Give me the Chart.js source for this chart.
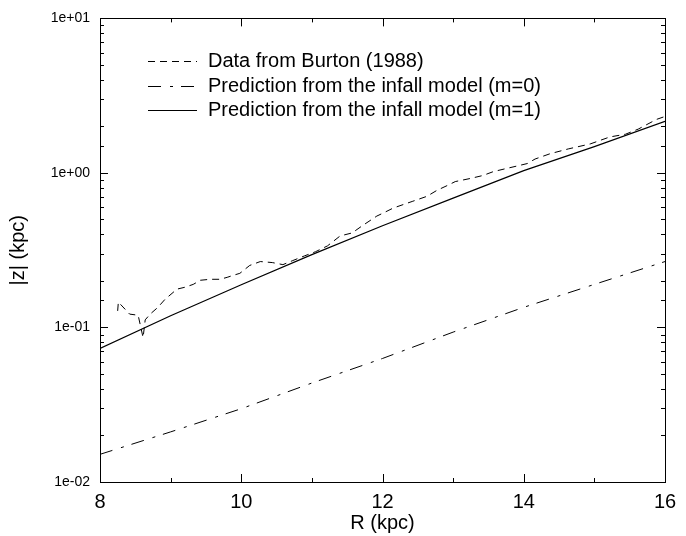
<!DOCTYPE html>
<html>
<head>
<meta charset="utf-8">
<script src="https://cdn.jsdelivr.net/npm/chart.js@4/dist/chart.umd.min.js"></script>
<style>
  html, body { margin: 0; padding: 0; background: #fff; }
  #chart { display: block; }
</style>
</head>
<body>
<canvas id="chart" width="686" height="536"></canvas>
<script>
// Data from Burton (1988)
const dataR = [8.25, 8.26, 8.42, 8.54, 8.61, 8.64, 8.71, 8.82, 8.92, 9.09, 9.20, 9.32, 9.42, 9.56, 9.70, 9.80,
    9.88, 9.98, 10.12, 10.27, 10.44, 10.59, 10.73, 10.90, 11.05, 11.22, 11.40, 11.57, 11.71, 11.92, 12.01,
    12.15, 12.31, 12.43, 12.63, 12.77, 12.92, 13.03, 13.24, 13.42, 13.57, 13.76, 13.91, 14.05, 14.16,
    14.37, 14.63, 14.94, 15.22, 15.44, 15.62, 15.88, 16.0];
const dataZ = [0.128, 0.146, 0.122, 0.120, 0.086, 0.112, 0.122, 0.135, 0.152, 0.177, 0.182, 0.190, 0.202, 0.205, 0.205, 0.211,
    0.217, 0.224, 0.252, 0.267, 0.263, 0.255, 0.271, 0.291, 0.309, 0.337, 0.391, 0.409, 0.454, 0.526, 0.550,
    0.592, 0.628, 0.656, 0.706, 0.771, 0.830, 0.879, 0.920, 0.962, 1.02, 1.07, 1.11, 1.15, 1.23,
    1.33, 1.43, 1.54, 1.71, 1.78, 1.92, 2.22, 2.32];

// Infall model predictions
const modelR = [8, 9, 10, 11, 12, 13, 14, 15, 16];
const modelM0 = [0.0151, 0.0211, 0.0298, 0.0437, 0.063, 0.0933, 0.135, 0.19, 0.267];
const modelM1 = [0.0731, 0.119, 0.189, 0.296, 0.455, 0.687, 1.035, 1.48, 2.16];

const seriesLabels = [
    'Data from Burton (1988)',
    'Prediction from the infall model (m=0)',
    'Prediction from the infall model (m=1)',
];
const seriesDash = [[7, 5], [13, 9, 3, 8], []];

const xTicks = [8, 10, 12, 14, 16];
const yTickValues = [0.01, 0.1, 1, 10];
const yTickLabels = ['1e-02', '1e-01', '1e+00', '1e+01'];

const FONT = "'Liberation Sans', Arial, Helvetica, sans-serif";

const toPoints = (xs, ys) => xs.map((x, i) => ({ x, y: ys[i] }));

// frame, inward ticks (gnuplot style) and the legend inside the plot
const framePlugin = {
    id: 'frame',
    afterDatasetsDraw(chart) {
        const { ctx, chartArea: a, scales: { x, y } } = chart;
        ctx.save();
        ctx.strokeStyle = '#000';
        ctx.lineWidth = 1;
        ctx.setLineDash([]);
        ctx.strokeRect(Math.round(a.left) + 0.5, Math.round(a.top) + 0.5,
            Math.round(a.right - a.left), Math.round(a.bottom - a.top));

        ctx.beginPath();
        for (let v = x.min; v <= x.max; v += 1) {
            const px = Math.round(x.getPixelForValue(v)) + 0.5;
            const len = xTicks.includes(v) ? 8 : 4;
            ctx.moveTo(px, a.bottom); ctx.lineTo(px, a.bottom - len);
            ctx.moveTo(px, a.top); ctx.lineTo(px, a.top + len);
        }
        y.ticks.forEach(t => {
            const py = Math.round(y.getPixelForValue(t.value)) + 0.5;
            const len = yTickValues.some(d => Math.abs(d - t.value) < d * 1e-6) ? 8 : 4;
            ctx.moveTo(a.left, py); ctx.lineTo(a.left + len, py);
            ctx.moveTo(a.right, py); ctx.lineTo(a.right - len, py);
        });
        ctx.stroke();

        // legend
        ctx.font = '20px ' + FONT;
        ctx.fillStyle = '#000';
        ctx.textBaseline = 'middle';
        const rows = [61, 86, 110];
        seriesLabels.forEach((label, i) => {
            ctx.beginPath();
            ctx.setLineDash(seriesDash[i]);
            ctx.moveTo(148, rows[i] + 0.5);
            ctx.lineTo(197, rows[i] + 0.5);
            ctx.stroke();
            ctx.setLineDash([]);
            ctx.fillText(label, 208, rows[i]);
        });
        ctx.restore();
    },
};

new Chart(document.getElementById('chart'), {
    type: 'scatter',
    data: {
        datasets: [
            {
                label: seriesLabels[0],
                data: toPoints(dataR, dataZ),
                borderColor: '#000',
                borderWidth: 1,
                borderDash: seriesDash[0],
                showLine: true,
                pointRadius: 0,
                tension: 0,
            },
            {
                label: seriesLabels[1],
                data: toPoints(modelR, modelM0),
                borderColor: '#000',
                borderWidth: 1,
                borderDash: seriesDash[1],
                showLine: true,
                pointRadius: 0,
                tension: 0,
            },
            {
                label: seriesLabels[2],
                data: toPoints(modelR, modelM1),
                borderColor: '#000',
                borderWidth: 1.2,
                showLine: true,
                pointRadius: 0,
                tension: 0,
            },
        ],
    },
    options: {
        responsive: false,
        animation: false,
        devicePixelRatio: 1,
        layout: { padding: { top: 13, right: 21, left: 0, bottom: 0 } },
        plugins: {
            legend: { display: false },
            tooltip: { enabled: false },
        },
        scales: {
            x: {
                type: 'linear',
                min: 8,
                max: 16,
                grid: { display: false, drawTicks: false },
                border: { display: false },
                afterFit: s => { s.height = 54; },
                ticks: {
                    stepSize: 1,
                    padding: 8,
                    color: '#000',
                    font: { family: FONT, size: 20 },
                    maxRotation: 0,
                    autoSkip: false,
                    callback: v => xTicks.includes(v) ? String(v) : '',
                },
                title: {
                    display: true,
                    text: 'R (kpc)',
                    color: '#000',
                    font: { family: FONT, size: 20 },
                    padding: { top: 0, bottom: 1 },
                },
            },
            y: {
                type: 'logarithmic',
                min: 0.01,
                max: 10,
                grid: { display: false, drawTicks: false },
                border: { display: false },
                afterFit: s => { s.width = 100; },
                ticks: {
                    padding: 10,
                    color: '#000',
                    font: { family: FONT, size: 14 },
                    autoSkip: false,
                    callback: v => {
                        const i = yTickValues.findIndex(d => Math.abs(d - v) < d * 1e-6);
                        return i >= 0 ? yTickLabels[i] : '';
                    },
                },
                title: {
                    display: true,
                    text: '|z| (kpc)',
                    color: '#000',
                    font: { family: FONT, size: 20 },
                    padding: { top: 6, bottom: 0 },
                },
            },
        },
    },
    plugins: [framePlugin],
});
</script>
</body>
</html>
